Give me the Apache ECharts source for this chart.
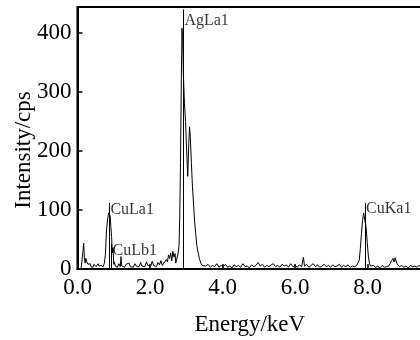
<!DOCTYPE html>
<html>
<head>
<meta charset="utf-8">
<script src="https://cdn.jsdelivr.net/npm/echarts@6/dist/echarts.min.js"></script>
<style>
  html, body { margin: 0; padding: 0; background: #fff; }
  #chart { width: 420px; height: 340px; }
</style>
</head>
<body>
<div id="chart"></div>
<script>
// spectrum, [keV, cps], split by region
const lowRange = [
  [0.00, 0], [0.05, 0], [0.10, 1], [0.13, 4], [0.15, 30], [0.17, 44], [0.19, 20], [0.21, 10],
  [0.23, 18], [0.25, 13], [0.27, 15], [0.29, 8], [0.31, 11], [0.33, 5], [0.35, 9], [0.37, 4],
  [0.39, 7], [0.41, 6], [0.43, 3], [0.45, 8], [0.47, 5], [0.49, 10], [0.51, 4], [0.53, 6],
  [0.55, 3], [0.57, 9], [0.59, 5], [0.61, 7], [0.63, 4], [0.65, 6], [0.67, 5], [0.69, 8],
];
const cuLPeak = [
  [0.71, 4], [0.74, 10], [0.77, 25], [0.80, 66], [0.83, 85], [0.86, 95], [0.88, 96], [0.90, 90],
  [0.92, 72], [0.94, 55], [0.96, 27], [0.98, 36], [1.00, 8], [1.02, 12], [1.04, 5],
];
const noiseLow = [
  [1.06, 6], [1.10, 3], [1.14, 9], [1.18, 4], [1.20, 21], [1.22, 5], [1.26, 7], [1.30, 3],
  [1.34, 8], [1.38, 5], [1.42, 10], [1.46, 4], [1.50, 6], [1.54, 3], [1.58, 9], [1.62, 5],
  [1.66, 7], [1.70, 4], [1.74, 11], [1.78, 5], [1.82, 8], [1.86, 4], [1.90, 12], [1.94, 6],
  [1.98, 9], [2.02, 5], [2.06, 13], [2.10, 6], [2.14, 8], [2.18, 4], [2.22, 11], [2.26, 7],
  [2.30, 14], [2.34, 6], [2.38, 10],
];
const preAg = [
  [2.42, 8], [2.45, 16], [2.48, 12], [2.51, 24], [2.54, 18], [2.57, 27], [2.60, 14], [2.63, 30],
  [2.66, 20], [2.69, 26], [2.71, 10],
];
const agPeak = [
  [2.74, 12], [2.77, 25], [2.80, 40], [2.82, 90], [2.84, 180], [2.86, 300], [2.88, 408], [2.90, 395],
  [2.92, 330], [2.95, 280], [2.98, 250], [3.01, 200], [3.04, 157], [3.07, 215], [3.09, 241], [3.11, 225],
  [3.14, 180], [3.17, 140], [3.20, 110], [3.23, 80], [3.26, 60], [3.29, 40], [3.32, 30], [3.36, 18],
  [3.40, 10], [3.44, 6],
];
const noiseMid = [
  [3.48, 9], [3.54, 5], [3.60, 8], [3.66, 3], [3.72, 6], [3.78, 4], [3.84, 9], [3.90, 3],
  [3.96, 6], [4.02, 4], [4.08, 8], [4.14, 3], [4.20, 5], [4.26, 2], [4.32, 7], [4.38, 4],
  [4.44, 6], [4.50, 3], [4.56, 9], [4.62, 4], [4.68, 5], [4.74, 2], [4.80, 7], [4.86, 4],
  [4.92, 6], [4.98, 11], [5.04, 5], [5.10, 8], [5.16, 3], [5.22, 6], [5.28, 4], [5.34, 7],
  [5.40, 9], [5.46, 4], [5.52, 6], [5.58, 3], [5.64, 8], [5.70, 5], [5.76, 7], [5.82, 3],
  [5.88, 9], [5.94, 4], [6.00, 6], [6.06, 3], [6.12, 7], [6.18, 4], [6.23, 20], [6.26, 5],
  [6.32, 8], [6.38, 3], [6.44, 6], [6.50, 9], [6.56, 4], [6.62, 7], [6.68, 3], [6.74, 5],
  [6.80, 8], [6.86, 4], [6.92, 6], [6.98, 3], [7.04, 7], [7.10, 4], [7.16, 5], [7.22, 8],
  [7.28, 3], [7.34, 6], [7.40, 4], [7.46, 7], [7.52, 3], [7.58, 5], [7.64, 4], [7.70, 6],
];
const cuKPeak = [
  [7.74, 5], [7.77, 15], [7.80, 35], [7.83, 60], [7.86, 82], [7.89, 95], [7.91, 98], [7.93, 92],
  [7.96, 70], [7.99, 45], [8.02, 22], [8.05, 10], [8.08, 5], [8.12, 4],
];
const tail = [
  [8.16, 6], [8.22, 3], [8.28, 5], [8.34, 2], [8.40, 6], [8.46, 3], [8.52, 4], [8.58, 5],
  [8.62, 9], [8.66, 14], [8.70, 18], [8.73, 12], [8.76, 19], [8.80, 10], [8.84, 7], [8.88, 4],
  [8.94, 6], [9.00, 3], [9.06, 5], [9.12, 2], [9.18, 6], [9.24, 4], [9.30, 5], [9.36, 3],
  [9.42, 6], [9.50, 4],
];

// line markers
const markerNames = ['CuLa1', 'CuLb1', 'AgLa1', 'CuKa1'];
const markerEnergy = [0.88, 0.94, 2.92, 7.93];
const markerTop = [112, 43, 440, 112];
const markerLabelLevel = [101, 31, 420, 102];

const xTicks = [0, 2, 4, 6, 8];
const yTicks = [0, 100, 200, 300, 400];

const spectrum = [].concat(lowRange, cuLPeak, noiseLow, preAg, agPeak, noiseMid, cuKPeak, tail);

const font = 'Liberation Serif';

const chart = echarts.init(document.getElementById('chart'), null, { renderer: 'canvas' });
chart.setOption({
  animation: false,
  backgroundColor: '#fff',
  grid: {
    left: 77.5,
    right: -2,
    top: 7,
    bottom: 71,
    outerBoundsMode: 'none',
    containLabel: false,
    show: true,
    borderColor: '#000',
    borderWidth: 2,
  },
  xAxis: {
    type: 'value',
    min: 0,
    max: 9.5,
    interval: xTicks[1] - xTicks[0],
    name: 'Energy/keV',
    nameLocation: 'middle',
    nameGap: 44,
    nameMoveOverlap: false,
    nameTextStyle: { fontFamily: font, fontSize: 23, color: '#000' },
    axisLine: { lineStyle: { color: '#000', width: 2 } },
    axisTick: { inside: true, length: 5, lineStyle: { color: '#000', width: 1.5 } },
    axisLabel: {
      fontFamily: font,
      fontSize: 23,
      color: '#000',
      margin: 7,
      showMaxLabel: false,
      formatter: (v) => (xTicks.includes(v) ? v.toFixed(1) : ''),
    },
    splitLine: { show: false },
  },
  yAxis: {
    type: 'value',
    min: 0,
    max: 444,
    interval: yTicks[1] - yTicks[0],
    name: 'Intensity/cps',
    nameLocation: 'middle',
    nameRotate: 90,
    nameGap: 42,
    nameMoveOverlap: false,
    nameTextStyle: { fontFamily: font, fontSize: 23, color: '#000', padding: [0, 24, 0, 0] },
    axisLine: { show: true, lineStyle: { color: '#000', width: 2 } },
    axisTick: { show: true, inside: true, length: 5, lineStyle: { color: '#000', width: 1.5 } },
    axisLabel: {
      fontFamily: font,
      fontSize: 23,
      color: '#000',
      margin: 6,
      showMaxLabel: false,
      formatter: (v) => (yTicks.includes(v) ? String(v) : ''),
    },
    splitLine: { show: false },
  },
  series: [
    {
      type: 'line',
      data: spectrum,
      showSymbol: false,
      symbol: 'none',
      lineStyle: { color: '#000', width: 1 },
      markLine: {
        silent: true,
        symbol: ['none', 'none'],
        label: { show: false },
        lineStyle: { color: '#000', width: 1, type: 'solid' },
        data: markerEnergy.map((e, i) => [{ coord: [e, 0] }, { coord: [e, markerTop[i]] }]),
      },
    },
    {
      type: 'scatter',
      symbolSize: 0,
      silent: true,
      data: markerNames.map((n, i) => ({ name: n, value: [markerEnergy[i], markerLabelLevel[i]] })),
      label: {
        show: true,
        position: 'right',
        distance: 1,
        formatter: (p) => p.name,
        fontFamily: font,
        fontSize: 16,
        color: '#000',
      },
    },
  ],
});
</script>
</body>
</html>
